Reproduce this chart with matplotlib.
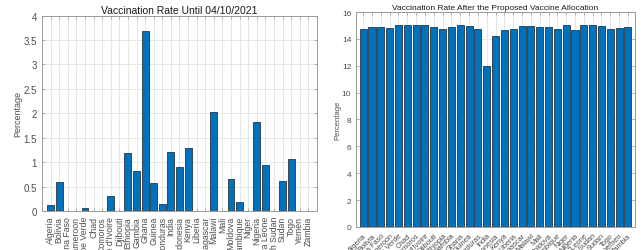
import numpy as np
import matplotlib
matplotlib.use("Agg")
from matplotlib import pyplot as plt
from matplotlib import font_manager

countries = ["Algeria", "Bolivia", "Burkina Faso", "Cameroon", "Cape Verde", "Chad",
             "Comoros", "Cote d'Ivoire", "Djibouti", "Ethiopia", "Gambia", "Ghana",
             "Guinea", "Honduras", "India", "Indonesia", "Kenya", "Liberia",
             "Madagascar", "Malawi", "Mali", "Moldova", "Mozambique", "Niger",
             "Nigeria", "Sierra Leone", "South Sudan", "Sudan", "Togo", "Yemen", "Zambia"]
rate_now = [0.13, 0.59, 0, 0, 0.07, 0, 0, 0.30, 0, 1.18, 0.83, 3.68,
            0.58, 0.15, 1.21, 0.90, 1.30, 0, 0, 2.03, 0.01, 0.66, 0.19, 0,
            1.82, 0.94, 0, 0.62, 1.07, 0, 0]
rate_after = [14.75, 14.9, 14.9, 14.8, 15.0, 15.0, 15.0, 15.05, 14.85, 14.75, 14.85, 15.0,
              14.95, 14.75, 12.0, 14.25, 14.7, 14.75, 14.95, 14.95, 14.9, 14.85, 14.75,
              15.0, 14.7, 15.0, 15.0, 14.95, 14.75, 14.8, 14.85]

# narrow font if there is one, else regular
names = {f.name for f in font_manager.fontManager.ttflist}
narrow = 'Liberation Sans Narrow' if 'Liberation Sans Narrow' in names else 'Liberation Sans'
plt.rcParams['font.family'] = ['Liberation Sans', 'DejaVu Sans']
blue = '#0072BD'
axcol = '#9a9a9a'
txtcol = '#4d4d4d'

fig = plt.figure(figsize=(6.44, 2.51), dpi=100)
x = np.arange(1, len(countries) + 1)

def style(ax):
    ax.set_axisbelow(True)
    ax.grid(True, color='#e3e3e3', linewidth=0.6)
    for s in ax.spines.values():
        s.set_color(axcol)
        s.set_linewidth(0.7)
    ax.tick_params(direction='in', top=True, right=True, length=2.5, width=0.5,
                   colors=axcol, labelcolor=txtcol, labelsize=7)
    ax.set_xticks(x)

ax1 = fig.add_axes([0.0652, 0.155, 0.427, 0.779])
ax1.bar(x, rate_now, width=0.8, color=blue, edgecolor='#1a1a1a', linewidth=0.5)
style(ax1)
ax1.set_xlim(0, 32)
ax1.set_ylim(0, 4)
ax1.set_yticks(np.arange(0, 4.01, 0.5))
ax1.set_yticklabels(['0', '0.5', '1', '1.5', '2', '2.5', '3', '3.5', '4'])
ax1.set_xticklabels(countries, rotation=90, fontsize=6.3, family=[narrow, 'DejaVu Sans'])
ax1.set_title('Vaccination Rate Until 04/10/2021', fontsize=7.5, color='#1a1a1a', pad=2)
ax1.set_ylabel('Percentage', fontsize=6.5, color=txtcol, labelpad=1)

ax2 = fig.add_axes([0.553, 0.092, 0.433, 0.856])
ax2.bar(x, rate_after, width=0.8, color=blue, edgecolor='#1a1a1a', linewidth=0.5)
style(ax2)
ax2.set_xlim(0.2, 31.8)
ax2.set_ylim(0, 16)
ax2.set_yticks(np.arange(0, 17, 2))
ax2.tick_params(axis='y', labelsize=6)
ax2.set_xticklabels(countries, rotation=45, ha='right', rotation_mode='anchor', fontsize=5.3,
                    family=[narrow, 'DejaVu Sans'])
ax2.set_title('Vaccination Rate After the Proposed Vaccine Allocation', fontsize=6,
              color='#1a1a1a', pad=2)
ax2.set_ylabel('Percentage', fontsize=5.5, color=txtcol, labelpad=0)

fig.savefig('out.png', dpi=100)
